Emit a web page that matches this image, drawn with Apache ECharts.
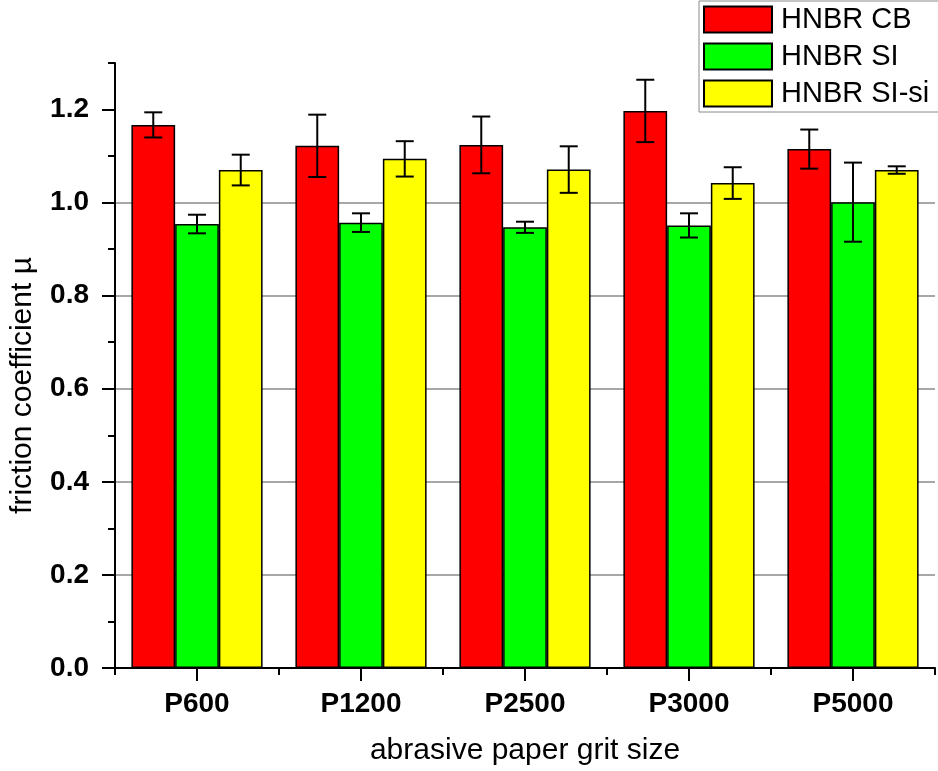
<!DOCTYPE html>
<html>
<head>
<meta charset="utf-8">
<script src="https://cdn.jsdelivr.net/npm/echarts@6/dist/echarts.min.js"></script>
<style>
html,body{margin:0;padding:0;background:#fff;}
#chart{width:938px;height:771px;}
</style>
</head>
<body>
<div id="chart"></div>
<script>
// ---- data ----
const categories = ['P600', 'P1200', 'P2500', 'P3000', 'P5000'];
const seriesNames = ['HNBR CB', 'HNBR SI', 'HNBR SI-si'];
const cbValues = [1.167, 1.122, 1.124, 1.197, 1.115];
const cbErrors = [0.027, 0.067, 0.061, 0.067, 0.042];
const siValues = [0.954, 0.957, 0.947, 0.951, 1.001];
const siErrors = [0.020, 0.020, 0.012, 0.026, 0.085];
const sisiValues = [1.070, 1.094, 1.071, 1.042, 1.070];
const sisiErrors = [0.033, 0.038, 0.050, 0.034, 0.008];
const yMajorTicks = [0, 0.2, 0.4, 0.6, 0.8, 1.0, 1.2];
const yMin = 0, yMax = 1.3, yMinorStep = 0.1;

// ---- styles ----
const colors = ['#ff0000', '#00ff00', '#ffff00'];
const FONT = '"Liberation Sans", Arial, sans-serif';
const values = [cbValues, siValues, sisiValues];
const errors = [cbErrors, siErrors, sisiErrors];

const chart = echarts.init(document.getElementById('chart'), null, {renderer: 'canvas'});

const barSeries = seriesNames.map((name, i) => ({
  name: name,
  type: 'bar',
  xAxisIndex: 0,
  yAxisIndex: 0,
  data: values[i],
  barGap: '0%',
  barCategoryGap: '20%',
  itemStyle: {color: colors[i], borderColor: '#000', borderWidth: 1.5},
  z: 2
}));

function errSeries(idx) {
  return {
    name: 'err' + idx,
    type: 'custom',
    xAxisIndex: 0,
    yAxisIndex: 0,
    z: 10,
    silent: true,
    renderItem: function (params, api) {
      const c = api.value(0), v = api.value(1), e = api.value(2);
      const top = api.coord([c, v + e]);
      const bot = api.coord([c, v - e]);
      const bw = api.size([1, 0])[0] * 0.8 / 3;
      const x = top[0] + (idx - 1) * bw;
      const hw = 9;
      const st = {stroke: '#000', lineWidth: 2};
      return {
        type: 'group',
        children: [
          {type: 'line', shape: {x1: x, y1: top[1], x2: x, y2: bot[1]}, style: st},
          {type: 'line', shape: {x1: x - hw, y1: top[1], x2: x + hw, y2: top[1]}, style: st},
          {type: 'line', shape: {x1: x - hw, y1: bot[1], x2: x + hw, y2: bot[1]}, style: st}
        ]
      };
    },
    data: categories.map((_, k) => [k, values[idx][k], errors[idx][k]])
  };
}

const option = {
  animation: false,
  backgroundColor: '#fff',
  textStyle: {fontFamily: FONT},
  grid: {left: 110, right: 3, top: 63, bottom: 101, containLabel: false},
  legend: {
    data: seriesNames,
    orient: 'vertical',
    icon: 'rect',
    left: 699,
    top: 1,
    padding: [4, 12, 4, 4],
    itemGap: 8,
    itemWidth: 68,
    itemHeight: 26,
    backgroundColor: '#fff',
    borderColor: '#8a8a8a',
    borderWidth: 1,
    borderRadius: 0,
    z: 20,
    textStyle: {fontFamily: FONT, fontSize: 29, color: '#000', padding: [0, 0, 0, 4]}
  },
  xAxis: [
    {
      type: 'category',
      data: categories,
      position: 'bottom',
      name: 'abrasive paper grit size',
      nameLocation: 'middle',
      nameGap: 68,
      nameTextStyle: {fontFamily: FONT, fontSize: 30, color: '#000'},
      axisLine: {show: true, lineStyle: {color: '#000', width: 2}},
      axisTick: {show: true, alignWithLabel: true, length: 13, lineStyle: {color: '#000', width: 2}},
      axisLabel: {fontFamily: FONT, fontSize: 28, fontWeight: 'bold', color: '#000', margin: 22},
      splitLine: {show: false}
    },
    {
      type: 'category',
      data: categories,
      position: 'bottom',
      axisLine: {show: false},
      axisTick: {show: true, alignWithLabel: false, length: 7, lineStyle: {color: '#000', width: 2}},
      axisLabel: {show: false},
      splitLine: {show: false}
    }
  ],
  yAxis: [
    {
      type: 'value',
      min: yMin,
      max: yMax,
      interval: yMinorStep,
      position: 'left',
      axisLine: {show: true, lineStyle: {color: '#000', width: 2}},
      axisTick: {show: true, length: 7, lineStyle: {color: '#000', width: 2}},
      axisLabel: {show: false},
      splitLine: {show: false}
    },
    {
      type: 'value',
      min: yMin,
      max: yMax,
      interval: 0.2,
      position: 'left',
      name: 'friction coefficient µ',
      nameLocation: 'middle',
      nameGap: 77,
      nameTextStyle: {fontFamily: FONT, fontSize: 30, color: '#000', padding: [0, 40, 0, 0]},
      axisLine: {show: false},
      axisTick: {show: true, length: 13, customValues: yMajorTicks, lineStyle: {color: '#000', width: 2}},
      axisLabel: {
        customValues: yMajorTicks,
        fontFamily: FONT, fontSize: 28, fontWeight: 'bold', color: '#000', margin: 26,
        formatter: v => v.toFixed(1)
      },
      splitLine: {show: true, showMinLine: false, showMaxLine: false, lineStyle: {color: '#8a8a8a', width: 1.5}}
    }
  ],
  series: barSeries.concat([errSeries(0), errSeries(1), errSeries(2)])
};

chart.setOption(option);
</script>
</body>
</html>
